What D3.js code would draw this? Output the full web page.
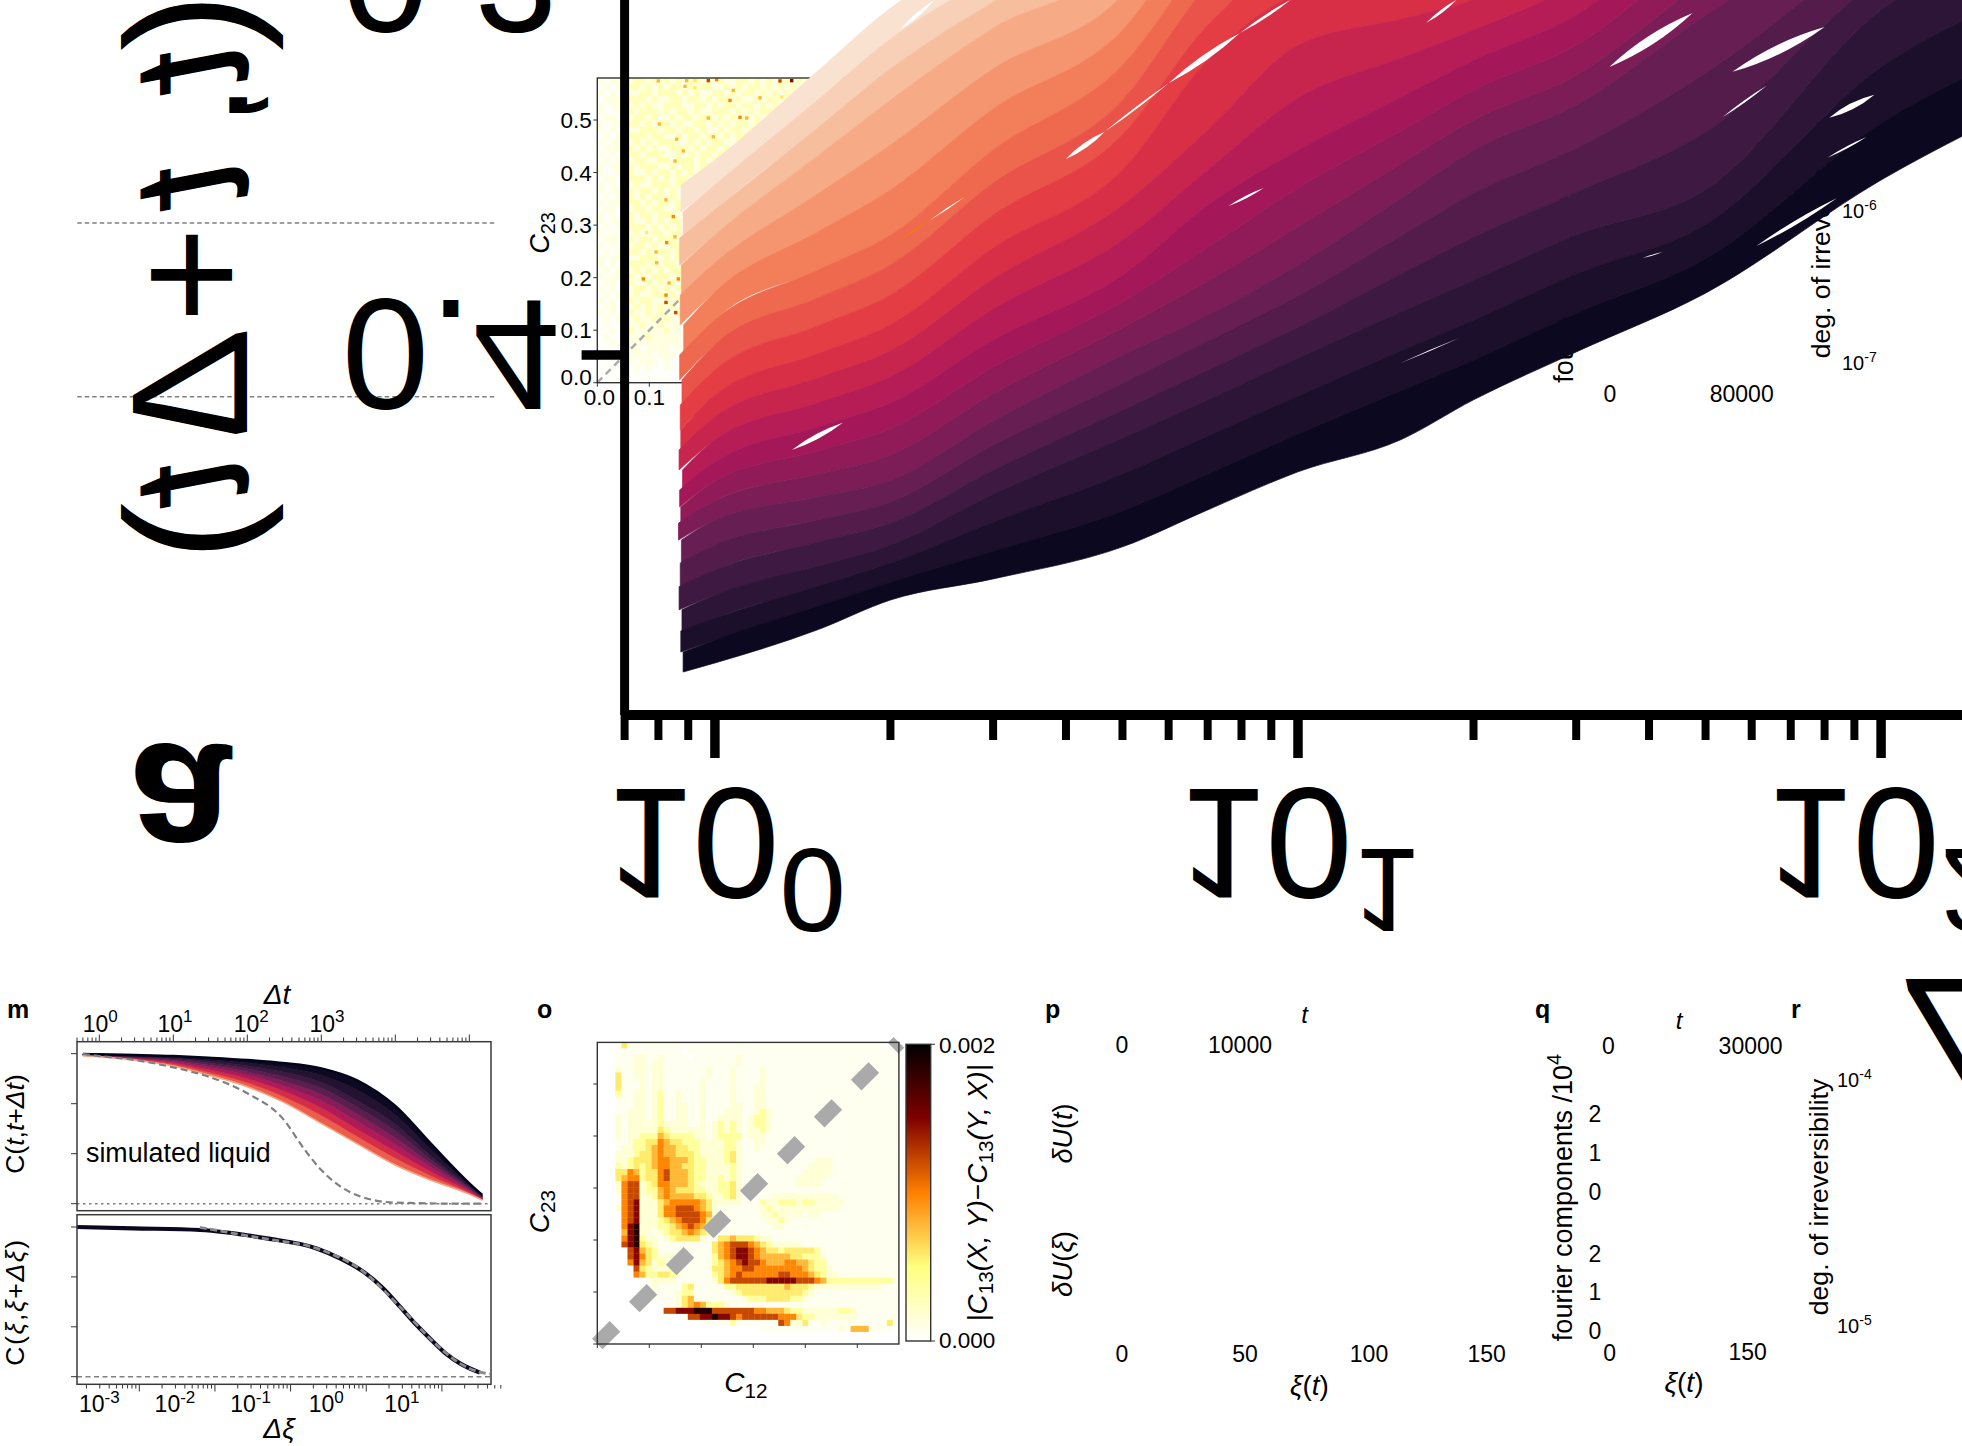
<!DOCTYPE html>
<html>
<head>
<meta charset="utf-8">
<script src="https://cdn.jsdelivr.net/npm/d3@7"></script>
<style>
html, body { margin: 0; background: #fff; }
svg { display: block; }
text { font-family: "Liberation Sans", Arial, sans-serif; fill: #000; }
</style>
</head>
<body>
<div id="chart"></div>
<script>
// big panel: C(t,t+dt) fan, one row per curve, dark (high C) first
const fanDt = [0.87, 1, 1.5, 2, 3, 5, 7, 10, 15, 20, 30, 50, 100, 200];
const fanCurves = [
  [.4841,.4817,.4729,.4650,.4594,.4509,.4411,.4310,.4225,.4119,.3992,.3836,.3536,.3297],
  [.4788,.4756,.4666,.4602,.4520,.4414,.4316,.4210,.4095,.4013,.3889,.3745,.3385,.3157],
  [.4732,.4698,.4613,.4552,.4443,.4316,.4215,.4109,.3989,.3907,.3785,.3653,.3236,.3013],
  [.4676,.4637,.4560,.4504,.4369,.4220,.4119,.4008,.3886,.3801,.3682,.3562,.3085,.2873],
  [.4615,.4570,.4496,.4446,.4305,.4146,.4040,.3926,.3785,.3687,.3568,.3408,.2997,.2759],
  [.4552,.4504,.4438,.4390,.4239,.4074,.3963,.3843,.3684,.3570,.3451,.3252,.2907,.2642],
  [.4491,.4438,.4377,.4332,.4175,.4000,.3894,.3761,.3584,.3456,.3337,.3098,.2820,.2528],
  [.4446,.4387,.4316,.4265,.4103,.3928,.3804,.3660,.3493,.3377,.3257,.3005,.2706,.2414],
  [.4403,.4334,.4255,.4196,.4032,.3859,.3714,.3557,.3406,.3297,.3178,.2912,.2589,.2297],
  [.4358,.4284,.4191,.4127,.3960,.3788,.3602,.3456,.3316,.3218,.3098,.2820,.2475,.2183],
  [.4305,.4225,.4127,.4058,.3878,.3695,.3509,.3318,.3212,.3138,.3013,.2732,.2369,.2077],
  [.4252,.4164,.4061,.3989,.3798,.3602,.3403,.3178,.3109,.3058,.2931,.2642,.2263,.1971],
  [.4199,.4106,.3997,.3920,.3716,.3509,.3218,.3045,.3005,.2979,.2846,.2554,.2157,.1865],
  [.4133,.4040,.3923,.3841,.3629,.3416,.3125,.2939,.2889,.2854,.2721,.2456,.2024,.1732],
  [.4066,.3973,.3849,.3761,.3544,.3324,.3019,.2833,.2775,.2732,.2599,.2361,.1891,.1599],
  [.4000,.3907,.3775,.3682,.3456,.3231,.2939,.2727,.2658,.2607,.2475,.2263,.1759,.1467],
  [.3920,.3833,.3674,.3562,.3347,.3138,.2833,.2634,.2557,.2501,.2369,.2157,.1653,.1361],
  [.3841,.3756,.3573,.3443,.3241,.3045,.2727,.2541,.2456,.2395,.2263,.2050,.1546,.1254],
  [.3761,.3682,.3472,.3324,.3133,.2952,.2607,.2448,.2355,.2289,.2157,.1944,.1440,.1149],
  [.3690,.3615,.3398,.3241,.3064,.2881,.2554,.2377,.2268,.2191,.2042,.1838,.1406,.1114],
  [.3621,.3549,.3324,.3162,.2995,.2812,.2488,.2308,.2183,.2096,.1926,.1732,.1369,.1077],
  [.3549,.3483,.3247,.3080,.2926,.2740,.2408,.2236,.2096,.1997,.1812,.1626,.1335,.1042]
];
const fanLevel = [0,.047,.093,.14,.19,.24,.29,.337,.383,.43,.477,.523,.57,.617,.663,.71,.76,.81,.86,.907,.953,1];
// first dt reached by each curve, the jagged left edge
const fanFirstDt = [.882,.874,.878,.868,.872,.876,.866,.874,.87,.88,.868,.874,.872,.878,.87,.884,.872,.876,.87,.882,.875,.87];

// thin gaps between curves [dt0, C0, dt1, C1]
const fanGaps = [
  [4.0,.348,4.66,.3408],[4.66,.3408,6.0,.3279],[6.0,.3279,7.95,.3146],[7.95,.3146,9.71,.3058],
  [16.6,.3119,18.7,.3058],[7.6,.3605,8.73,.3557],[1.355,.4252,1.657,.418],[2.34,.3642,2.68,.3581],
  [34.2,.3236,47.5,.3093],[55.6,.3249,80,.313],[81.5,.3371,97.4,.331],[53.5,.3369,63.6,.3286],
  [80.9,.3477,94.4,.3422],[61.1,.3711,83.9,.3584],[39,.3743,42.2,.3727],[2.075,.3138,2.38,.3058],
  [15,.4021,18.9,.3955]
];
const fanGapWidth = [5,2,6,3,3,2.5,5,1.5,9,9,6,2,2,4,1,4,1];
const orangeGap = [2.075,.3695,2.34,.3642];

const bigXMajor = [1, 10, 100];
const bigXLabelShift = [-110, -120, -116];
const bigYTicks = [0.3, 0.4];
const bigRefLines = [0.365, 0.4111];
// the mirrored y label, glyph by glyph, with where it sits along the axis
const bigYGlyphs = ["C", "(", "t", ",", "t", "+", "Δ", "t", ")"];
const bigYGlyphAt = [-65, 22, 67, 105, 183, 275, 390, 480, 532];

// panel m, top: dt on log axis
const mDt = [0.6,1,3,10,30,100,300,1000,3000,10000,30000,100000,150000];
const mCurves = [
  [.998,.996,.991,.984,.973,.958,.938,.902,.824,.651,.402,.136,.058],
  [.997,.995,.987,.978,.962,.940,.910,.858,.760,.592,.362,.126,.054],
  [.996,.993,.983,.971,.950,.920,.880,.810,.690,.530,.320,.115,.050],
  [.995,.992,.980,.964,.938,.900,.850,.772,.647,.486,.295,.108,.046],
  [.993,.990,.976,.957,.925,.880,.820,.730,.600,.440,.270,.100,.042],
  [.992,.988,.972,.949,.910,.858,.788,.687,.552,.396,.243,.092,.038],
  [.990,.986,.968,.940,.895,.835,.755,.640,.500,.350,.215,.083,.033],
  [.988,.983,.963,.929,.877,.808,.718,.590,.452,.305,.188,.073,.029],
  [.986,.980,.958,.918,.858,.780,.680,.536,.402,.258,.158,.064,.024]
];
const mLevel = [.03,.09,.16,.24,.34,.44,.54,.66];
const mLiquidDt = [0.6,1,3,10,30,100,300,600,1000,3000,10000,100000,150000];
const mLiquidC = [.998,.984,.958,.909,.847,.736,.569,.358,.224,.058,.007,0,0];
const mTopLabelShift = [1, 1.7, 4, 5.7];
// panel m, bottom: d-xi on log axis
const mXi = [.00015,.00083,.00634,.0482,.221,.449,.912,1.68,2.79,4.62,7.67,11.5,17.3,31.8];
const mXiC = [1,.991,.98,.924,.857,.791,.702,.59,.468,.345,.234,.151,.089,.027];
const mXiRefX = [.0063,.0175,.0482,.221,.912,2.79,7.67,17.3,31.8,43];
const mXiRefC = [.998,.958,.92,.857,.702,.468,.234,.089,.03,.018];
const mTicksC = [0, 1/3, 2/3, 1];

// heatmap rows: digit is an index in heatLevels, top row first
const heatLevels = [0,.00006,.00016,.00038,.00058,.00078,.00098,.00122,.00148,.00185];
const heatNLevels = [.00002,.00012,.00028];
const heatO = [
"0000411111 1111111111 1111111111 1111111111 1111111000",
"0001111111 1111011111 1111111111 1111111111 1111111110",
"0001112211 2111101111 1112111111 1111111111 1111111111",
"0001112212 2111111111 1112111111 1111111111 1111111111",
"0002112212 2111111121 1121111211 1111111111 1111111111",
"0004112212 2111111121 1121111211 1111111111 1111111111",
"0004111212 2111111211 1121111211 1111111111 1111111111",
"0004111212 2111111211 1121112211 1111111111 1111111111",
"0003112212 3112111211 1121112211 1111111111 1111111111",
"0001112212 3112111211 1121112211 1111111111 1111111111",
"0001112212 3112211211 1122112211 1111111111 1111111111",
"0001122212 3112211211 1222112321 1111111111 1111111111",
"0002122212 3112211211 2222123321 1111111111 1111111111",
"0002122222 3222211212 3232123321 1111111111 1111111111",
"0002122222 4322222212 3232122321 1111111111 1111111111",
"0002122333 5433332212 3333122211 1111111111 1111111111",
"0001123344 6544333222 2332112211 1111111111 1111111111",
"0001223345 6554433222 2332112111 1111111111 1111111111",
"0002223445 6554443222 2342111111 1111111111 1111111111",
"0002234445 6655543322 2342111111 1111112221 1111111111",
"0003234345 6655443322 2232111111 1111122221 1111111111",
"0004465344 6755543322 2232111111 1111222221 1111111111",
"0004566344 6755543322 3232111111 1112222211 1111111111",
"0002677234 6655543222 3342111111 1112222111 1111111111",
"0002677233 5654443322 3342111111 1111111111 1111111111",
"0001677223 5655554432 2342111112 2222222222 1111111111",
"0001678222 4566666542 2222111322 3332332222 2111111111",
"0002678222 4667776542 1111111232 2222222222 1111111111",
"0000678222 4667777652 1111111223 2222122111 1111111111",
"0000678222 3456777642 1111111122 3211111111 1111111111",
"0000689222 3345676532 1111111112 2111111111 1111111111",
"0000589221 2344565431 1111111111 1111111111 1111111111",
"0000689322 1234444211 4454443221 1111111111 1111111111",
"0000789432 1111111114 5677765432 2222111111 1111111111",
"0000078543 1111111114 5678876544 3444443111 1111111111",
"0000078643 2221111113 5678876555 5544333211 1111111111",
"0000068542 3221111113 4567877655 5665543311 1111111111",
"0000007432 2232111114 4566776666 6666543321 1111111111",
"0000006533 4432111113 4567666666 7766654322 1111111111",
"0000000012 2221111112 4677777788 8887776533 3333333331",
"0000000112 1111341111 1334444444 4544432222 2222222111",
"0000000011 1112331111 1123444444 4444321111 1111111111",
"0000000001 1112451111 1111233344 4433211111 1111111111",
"0000000000 0112456533 3211111111 1111111111 1111111111",
"0000000000 0778889997 7777776655 5433222222 3321111111",
"0000000000 0000177889 8876777777 6664332222 2221111111",
"0000000000 0000000111 1131111111 7622411211 1111111141",
"0000000000 0000000000 0000000111 1111111111 2155511110",
"0000000000 0000000000 0000000000 0000000000 0000000000",
"0000000000 0000000000 0000000000 0000000000 0000000000"
];
const heatN = [
"1011 2122121212 1221212112 2121212212 1221",
"0101 1221212122 1212211212 1221212121 221",
"1010 2112212221 2121122121 2212121212 2",
"0111 1222121122 1221212212 1121221221",
"1011 2121211222 1122121221 2212121",
"1001 1212221212 2121122212 1212212",
"0110 2122121121 2212212121 212112",
"1011 1221212212 1122121212 2121",
"1010 2112221221 2212112122 121",
"0101 1222122112 1221221212 21",
"1011 2121212221 1212122112",
"0111 2212121122 2121221212",
"1010 1221222112 1212212",
"0101 2122112212 2212121",
"1011 1212221121 22122",
"1001 2211212212 1212",
"0110 1222121212 21",
"1010 2121122212 2",
"1011 1212212121",
"0101 2212122121",
"1011 1221212212",
"0110 2122122112",
"1010 1212212221",
"1011 2211212122",
"0101 1222121212",
"1010 2121122122",
"0111 1212212221",
"1010 2122121122",
"0101 1221212212",
"1011 2112221212",
"1010 1222121221",
"0101 2121212122",
"1011 1212122212",
"0110 2211212121",
"1010 1122121212",
"0101 2121122121",
"1010 1212211212",
"0110 1121212121",
"1010 1211212112",
"0101 1121121211",
"0100 1112112111",
"0010 1211111211",
"0100 1111211111",
"0010 1111111111",
"0000 1110111101",
"0000 0111101110",
"0000 0101110100",
"0000 0010100100",
"0000 0000000000",
"0000 0000000000"
];
// hottest single cells of the panel behind the fan [C12, C23, level]
const heatNSpots = [
  [.1173,.5744,5],[.1719,.575,5],[.1687,.5642,5],[.1879,.575,4],[.1879,.5615,4],[.2135,.575,7],
  [.2296,.5769,6],[.2616,.5565,5],[.3129,.5423,5],[.3513,.5744,7],[.3738,.575,8],[.3546,.5437,4],
  [.2552,.5373,6],[.2744,.5052,6],[.2873,.5038,5],[.2135,.5038,5],[.1192,.4923,5],[.1527,.4635,5],
  [.2231,.4681,5],[.1654,.4412,5],[.1494,.4219,5],[.1321,.3481,5],[.1462,.3162,6],[.095,.286,4],
  [.1494,.2777,5],[.1335,.2667,6],[.1129,.2488,5],[.0885,.1975,6],[.1558,.1975,6],[.1379,.1898,5],
  [.1142,.2283,5],[.1321,.1667,6],[.1321,.1527,7],[.1508,.1335,7]
];
const heatTicks = [0, 0.1, 0.2, 0.3, 0.4, 0.5];
const heatDomain = [0, 0.58];
const barTicks = ["0.002", "0.000"];

const width = 1962, height = 1446;
const svg = d3.select("#chart").append("svg").attr("width", width).attr("height", height);

const rocket = d3.scaleLinear()
  .domain([0, 1/7, 2/7, 3/7, 4/7, 5/7, 6/7, 1])
  .range(["#03051a", "#35193e", "#701f57", "#ad1759", "#e13342", "#f37651", "#f6b48f", "#faebdd"]);
const heatColor = d3.scaleLinear().domain([0, .0005, .001, .0015, .002])
  .range(["#ffffff", "#ffff80", "#ff8000", "#800000", "#000000"]);

// text with italic, sup and sub pieces
function label(parent, x, y, parts, fs, opts) {
  opts = opts || {};
  const t = parent.append("text")
    .attr("font-size", fs)
    .attr("text-anchor", opts.anchor || "middle")
    .attr("transform", opts.transform || ("translate(" + x + "," + y + ")"));
  if (opts.bold) t.attr("font-weight", "bold");
  if (opts.spacing) t.attr("letter-spacing", opts.spacing);
  let shift = 0;
  (typeof parts === "string" ? [{s: parts}] : parts).forEach(function(p) {
    const target = p.sup ? -(opts.raise || 0.4) * fs : (p.sub ? 0.22 * fs : 0);
    const sp = t.append("tspan").text(p.s).attr("dy", target - shift)
      .attr("font-size", (p.sup || p.sub) ? fs * (opts.ratio || 0.74) : fs);
    if (p.i) sp.attr("font-style", "italic");
    shift = target;
  });
  return t;
}
const rot = function(x, y) { return "translate(" + x + "," + y + ") rotate(-90)"; };
const pow10 = function(e) { return [{s: "10"}, {s: String(e), sup: true}]; };

function logTicks(lo, hi) {
  const out = [];
  for (let e = -6; e < 7; e++) for (let m = 1; m < 10; m++) {
    const v = +(m + "e" + e);
    if (v >= lo && v <= hi) out.push(v);
  }
  return out;
}
const isMajor = function(d) { return Math.abs(Math.log10(d) - Math.round(Math.log10(d))) < 1e-9; };

// ---- bottom left, panel m
const m = svg.append("g");
const mTopX = d3.scaleLog().domain([1, 1e5]).range([99.3, 469.3]);
const mTopY = d3.scaleLinear().domain([0, 1]).range([1203.7, 1053.7]);
const mBotX = d3.scaleLog().domain([1e-3, 10]).range([139.3, 441.9]);
const mBotY = d3.scaleLinear().domain([0, 1]).range([1376.7, 1227]);

const mBand = d3.area().curve(d3.curveMonotoneX).x(function(d) { return mTopX(d.x); })
  .y0(function(d) { return mTopY(d.a); }).y1(function(d) { return mTopY(d.b); });
const mLine = d3.line().curve(d3.curveMonotoneX).x(function(d) { return mTopX(d[0]); }).y(function(d) { return mTopY(d[1]); });
for (let k = mCurves.length - 2; k >= 0; k--) {
  const rows = mDt.map(function(x, i) { return {x: x, a: mCurves[k][i], b: mCurves[k + 1][i]}; });
  const c = rocket(mLevel[k]);
  m.append("path").datum(rows).attr("d", mBand).attr("fill", c).attr("stroke", c).attr("stroke-width", 0.6);
}
m.append("path").datum(mDt.map(function(x, i) { return [x, mCurves[0][i]]; }))
  .attr("fill", "none").attr("stroke", "#03051a").attr("stroke-width", 2.5).attr("d", mLine);
m.append("path").datum(mDt.map(function(x, i) { return [x, mCurves[8][i]]; }))
  .attr("fill", "none").attr("stroke", "#f6a67f").attr("stroke-width", 1.5).attr("d", mLine);
m.append("line").attr("x1", 77).attr("x2", 491).attr("y1", mTopY(0)).attr("y2", mTopY(0))
  .attr("stroke", "#808080").attr("stroke-width", 1.5).attr("stroke-dasharray", "2.5,3.5");
m.append("path").datum(mLiquidDt.map(function(x, i) { return [x, mLiquidC[i]]; }))
  .attr("fill", "none").attr("stroke", "#808080").attr("stroke-width", 2.2).attr("stroke-dasharray", "7,4").attr("d", mLine);

const botLine = d3.line().curve(d3.curveMonotoneX).x(function(d) { return mBotX(d[0]); }).y(function(d) { return mBotY(d[1]); });
m.append("line").attr("x1", 77).attr("x2", 491).attr("y1", mBotY(0)).attr("y2", mBotY(0))
  .attr("stroke", "#808080").attr("stroke-width", 1.5).attr("stroke-dasharray", "5,3.5");
m.append("path").datum(mXi.map(function(x, i) { return [x, mXiC[i]]; })).attr("d", botLine)
  .attr("fill", "none").attr("stroke", "#0a0820").attr("stroke-width", 4.2);
m.append("path").datum(mXiRefX.map(function(x, i) { return [x, mXiRefC[i]]; })).attr("d", botLine)
  .attr("fill", "none").attr("stroke", "#8a8a8a").attr("stroke-width", 2.8).attr("stroke-dasharray", "7,3.5");

[[1041.7, 1210.7], [1214.7, 1384.3]].forEach(function(b) {
  m.append("rect").attr("x", 77).attr("y", b[0]).attr("width", 414).attr("height", b[1] - b[0])
    .attr("fill", "none").attr("stroke", "#3a3a3a").attr("stroke-width", 1.5);
});
const styleSmall = function(g) {
  g.select(".domain").remove();
  g.selectAll(".tick line").attr("stroke", "#333").attr("stroke-width", 1);
  g.selectAll(".tick text").remove();
};
const topAxis = m.append("g").attr("transform", "translate(0,1041)")
  .call(d3.axisTop(mTopX).tickValues(logTicks(0.5, 1.9e5)).tickSize(3.5).offset(0));
styleSmall(topAxis);
topAxis.selectAll(".tick line").filter(isMajor).attr("y2", -6.5);
const botAxis = m.append("g").attr("transform", "translate(0,1385)")
  .call(d3.axisBottom(mBotX).tickValues(logTicks(1.6e-4, 60)).tickSize(3.5).offset(0));
styleSmall(botAxis);
botAxis.selectAll(".tick line").filter(isMajor).attr("y2", 6.5);
const leftTop = m.append("g").attr("transform", "translate(77,0)")
  .call(d3.axisLeft(mTopY).tickValues(mTicksC).tickSize(6).offset(0));
styleSmall(leftTop);
const leftBot = m.append("g").attr("transform", "translate(77,0)")
  .call(d3.axisLeft(mBotY).tickValues(mTicksC).tickSize(6).offset(0));
styleSmall(leftBot);

[1, 10, 100, 1000].forEach(function(v, i) { label(m, mTopX(v) + mTopLabelShift[i], 1031.6, pow10(i), 23); });
[-3, -2, -1, 0, 1].forEach(function(e) { label(m, mBotX(Math.pow(10, e)) - 40, 1411.7, pow10(e), 23); });
label(m, 22, 1018, "m", 25, {bold: true, anchor: "start", transform: "translate(7,1018)"});
label(m, 277, 1004, [{s: "Δt", i: true}], 28);
label(m, 279, 1438, [{s: "Δξ", i: true}], 28);
label(m, 86, 1161.7, "simulated liquid", 26.8, {anchor: "start"});
label(m, 0, 0, [{s: "C"}, {s: "("}, {s: "t", i: true}, {s: ","}, {s: "t", i: true}, {s: "+"}, {s: "Δt", i: true}, {s: ")"}], 26.5, {transform: rot(24, 1124)});
label(m, 0, 0, [{s: "C"}, {s: "("}, {s: "ξ", i: true}, {s: ","}, {s: "ξ", i: true}, {s: "+"}, {s: "Δξ", i: true}, {s: ")"}], 26.5, {transform: rot(24, 1302), spacing: 1.6});

// ---- panel o
const o = svg.append("g");
const oX = d3.scaleLinear().domain(heatDomain).range([597.3, 898.9]);
const oY = d3.scaleLinear().domain(heatDomain).range([1344, 1042.4]);
const cell = heatDomain[1] / 50;
function drawHeat(g, rows, x, y, levels) {
  rows.forEach(function(r, i) {
    const digits = r.replace(/ /g, "").split("");
    g.selectAll(null).data(digits).enter().append("rect")
      .attr("x", function(d, c) { return x(c * cell); })
      .attr("y", y(heatDomain[1] - i * cell))
      .attr("width", x(cell) - x(0) + 0.3)
      .attr("height", y(0) - y(cell) + 0.3)
      .attr("fill", function(d) { return heatColor(levels[+d]); });
  });
}
drawHeat(o, heatO, oX, oY, heatLevels);
o.append("line").attr("x1", oX(0)).attr("y1", oY(0)).attr("x2", oX(heatDomain[1])).attr("y2", oY(heatDomain[1]))
  .attr("stroke", "#aaaaaa").attr("stroke-width", 15).attr("stroke-dasharray", "25,27.3");
o.append("rect").attr("x", 597.3).attr("y", 1042.4).attr("width", 301.6).attr("height", 301.6)
  .attr("fill", "none").attr("stroke", "#333").attr("stroke-width", 1.4);
const oBot = o.append("g").attr("transform", "translate(0,1344)")
  .call(d3.axisBottom(oX).tickValues(heatTicks).tickSize(4).offset(0));
styleSmall(oBot);
const oLeft = o.append("g").attr("transform", "translate(597.3,0)")
  .call(d3.axisLeft(oY).tickValues(heatTicks).tickSize(4).offset(0));
styleSmall(oLeft);

const barY = d3.scaleLinear().domain([0, .002]).range([1341, 1044.3]);
const grad = svg.append("defs").append("linearGradient").attr("id", "bar")
  .attr("x1", "0%").attr("y1", "100%").attr("x2", "0%").attr("y2", "0%");
grad.selectAll("stop").data(heatColor.domain()).enter().append("stop")
  .attr("offset", function(d) { return (d / .002 * 100) + "%"; })
  .attr("stop-color", function(d) { return heatColor(d); });
o.append("rect").attr("x", 906).attr("y", barY(.002)).attr("width", 24.7).attr("height", barY(0) - barY(.002))
  .attr("fill", "url(#bar)").attr("stroke", "#333").attr("stroke-width", 1.4);
barTicks.forEach(function(v) {
  o.append("line").attr("x1", 930.7).attr("x2", 935).attr("y1", barY(+v)).attr("y2", barY(+v)).attr("stroke", "#333");
});
label(o, 939, 1053, barTicks[0], 22.5, {anchor: "start"});
label(o, 939, 1347.7, barTicks[1], 22.5, {anchor: "start"});
label(o, 0, 0, [{s: "|C", i: true}, {s: "13", sub: true}, {s: "(X, Y)", i: true}, {s: "−"}, {s: "C", i: true}, {s: "13", sub: true}, {s: "(Y, X)|", i: true}], 28, {transform: rot(986.7, 1193)});
label(o, 0, 0, [{s: "C", i: true}, {s: "12", sub: true}], 28, {transform: "translate(746,1391.7)"});
label(o, 0, 0, [{s: "C", i: true}, {s: "23", sub: true}], 28, {transform: rot(549.3, 1211.7)});
label(o, 537, 1018, "o", 25, {bold: true, anchor: "start"});

// ---- panels p, q, r, only their labels are left
const t = svg.append("g");
label(t, 1045, 1018.3, "p", 25, {bold: true, anchor: "start"});
label(t, 1304.7, 1023, [{s: "t", i: true}], 24);
label(t, 1122, 1052.7, "0", 23);
label(t, 1240, 1052.7, "10000", 23);
label(t, 0, 0, [{s: "δU", i: true}, {s: "("}, {s: "t", i: true}, {s: ")"}], 27, {transform: rot(1071.6, 1133.5)});
label(t, 0, 0, [{s: "δU", i: true}, {s: "("}, {s: "ξ", i: true}, {s: ")"}], 27.5, {transform: rot(1071.6, 1264)});
[["0", 1122], ["50", 1245], ["100", 1369], ["150", 1486.6]].forEach(function(d) { label(t, d[1], 1361.7, d[0], 23); });
label(t, 1309.4, 1395, [{s: "ξ", i: true}, {s: "("}, {s: "t", i: true}, {s: ")"}], 28);

label(t, 1535, 1018, "q", 25, {bold: true, anchor: "start"});
label(t, 1679, 1029, [{s: "t", i: true}], 24);
label(t, 1608.5, 1054.3, "0", 23);
label(t, 1750.6, 1054.3, "30000", 23);
[["2", 1122.3], ["1", 1160.7], ["0", 1200], ["2", 1261.7], ["1", 1300], ["0", 1339]].forEach(function(d) {
  label(t, 1594.8, d[1], d[0], 23);
});
label(t, 0, 0, [{s: "fourier components /10"}, {s: "4", sup: true}], 27, {transform: rot(1572, 1197.5)});
label(t, 1609.7, 1360.7, "0", 23);
label(t, 1747.6, 1360, "150", 23);
label(t, 1684, 1391.7, [{s: "ξ", i: true}, {s: "("}, {s: "t", i: true}, {s: ")"}], 28);

label(t, 1791, 1018, "r", 25, {bold: true, anchor: "start"});
label(t, 1837, 1086.7, pow10(-4), 20, {anchor: "start", ratio: 0.7});
label(t, 1837, 1333, pow10(-5), 20, {anchor: "start", ratio: 0.7});
label(t, 0, 0, "deg. of irreversibility", 26.6, {transform: rot(1828, 1197)});

// same panels again, higher up, mostly under the fan
label(t, 0, 0, "fourier components /10", 27, {anchor: "start", transform: rot(1572.7, 382.7)});
label(t, 0, 0, "deg. of irreversibility", 26.6, {anchor: "start", transform: rot(1830, 358.3)});
label(t, 1842, 218.3, pow10(-6), 20, {anchor: "start", ratio: 0.7});
label(t, 1842, 370, pow10(-7), 20, {anchor: "start", ratio: 0.7});
label(t, 1610, 402.3, "0", 23);
label(t, 1741.7, 402.3, "80000", 23);

// ---- panel behind the fan
const n = svg.append("g");
const nX = d3.scaleLinear().domain(heatDomain).range([597.3, 898.9]);
const nY = d3.scaleLinear().domain(heatDomain).range([382.7, 78]);
drawHeat(n, heatN, nX, nY, heatNLevels);
n.selectAll(null).data(heatNSpots).enter().append("rect")
  .attr("x", function(d) { return nX(d[0]) - 1.7; })
  .attr("y", function(d) { return nY(d[1]) - 1.7; })
  .attr("width", 3.4).attr("height", 3.4)
  .attr("fill", function(d) { return heatColor(heatLevels[d[2]]); });
n.append("line").attr("x1", nX(0)).attr("y1", nY(0)).attr("x2", nX(heatDomain[1])).attr("y2", nY(heatDomain[1]))
  .attr("stroke", "#aaaaaa").attr("stroke-width", 2.5).attr("stroke-dasharray", "7,5");
n.append("rect").attr("x", 597.3).attr("y", 78).attr("width", 301.6).attr("height", 304.7)
  .attr("fill", "none").attr("stroke", "#333").attr("stroke-width", 1.4);
const nBot = n.append("g").attr("transform", "translate(0,382.7)")
  .call(d3.axisBottom(nX).tickValues(heatTicks.slice(0, 2)).tickSize(4).offset(0));
nBot.select(".domain").remove();
nBot.selectAll(".tick text").attr("font-size", 22.5).attr("dy", 0).attr("y", 22.5).text(d3.format(".1f"))
  .attr("dx", function(d) { return d === 0 ? 2 : 0; });
const nLeft = n.append("g").attr("transform", "translate(597.3,0)")
  .call(d3.axisLeft(nY).tickValues(heatTicks).tickSize(4).offset(0));
nLeft.select(".domain").remove();
nLeft.selectAll(".tick text").attr("font-size", 22.5).attr("x", -5.5).text(d3.format(".1f"))
  .attr("dy", function(d) { return d === 0 ? 2.5 : 8; });
[nBot, nLeft].forEach(function(g) {
  g.selectAll(".tick line").attr("stroke", "#333");
  g.selectAll(".tick text").attr("font-family", "Liberation Sans").attr("fill", "#000");
});
label(n, 0, 0, [{s: "C", i: true}, {s: "23", sub: true}], 27, {transform: rot(549, 233)});

// gray lines that belong to the panel m copy of the big axes
const bigX = d3.scaleLog().domain([0.7, 200]).range([624.6, 2056.6]);
const bigY = d3.scaleLinear().domain([0.3, 0.4955]).range([-22, 715]);
bigRefLines.forEach(function(c) {
  svg.append("line").attr("x1", bigX(0.0806)).attr("x2", bigX(0.42)).attr("y1", bigY(c)).attr("y2", bigY(c))
    .attr("stroke", "#808080").attr("stroke-width", 1.5).attr("stroke-dasharray", "4.5,3");
});

// ---- the big axes, y runs downward, text comes out mirrored
const big = svg.append("g");
const bigBottom = big.append("g").attr("transform", "translate(0,715)")
  .call(d3.axisBottom(bigX).tickValues(logTicks(0.7, 200)).tickSize(25).tickSizeOuter(0).offset(0));
bigBottom.select(".domain").attr("stroke", "#000").attr("stroke-width", 10);
bigBottom.selectAll(".tick text").remove();
bigBottom.selectAll(".tick line").attr("stroke", "#000").attr("stroke-width", 8);
bigBottom.selectAll(".tick line").filter(isMajor).attr("y2", 43).attr("stroke-width", 9.5);
const bigLeft = big.append("g").attr("transform", "translate(624.6,0)")
  .call(d3.axisLeft(bigY).tickValues(bigYTicks).tickSize(43).tickSizeOuter(0).offset(0));
bigLeft.select(".domain").attr("stroke", "#000").attr("stroke-width", 9);
bigLeft.selectAll(".tick text").remove();
bigLeft.selectAll(".tick line").attr("stroke", "#000").attr("stroke-width", 9.5);

const flip = function(x, y, sx) { return "matrix(" + (sx || 1) + ",0,0,-1," + x + "," + y + ")"; };
bigXMajor.forEach(function(v, i) {
  label(big, 0, 0, pow10(i), 157, {anchor: "start", raise: 0.38, ratio: 0.76, transform: flip(bigX(v) + bigXLabelShift[i], 789)});
});
bigYTicks.forEach(function(v) {
  label(big, 0, 0, d3.format(".1f")(v), 157, {anchor: "end", transform: flip(560, bigY(v) - 55)});
});
bigYGlyphs.forEach(function(g, i) {
  const upright = g === "C" || g === "(" || g === ")" || g === "," || g === "+";
  label(big, 0, 0, [{s: g, i: !upright}], (g === "(" || g === ")") ? 175 : 165,
    {transform: "matrix(0,1,1,0,247," + bigYGlyphAt[i] + ")"});
});
label(big, 0, 0, "a", 182, {bold: true, anchor: "start", transform: flip(130, 745)});
label(big, 0, 0, [{s: "Δt", i: true}], 165, {anchor: "start", transform: flip(1909, 979)});

// ---- the fan on top of everything else
const fan = svg.append("g");
const band = d3.area().curve(d3.curveMonotoneX).x(function(d) { return bigX(d.x); })
  .y0(function(d) { return bigY(d.a); }).y1(function(d) { return bigY(d.b); });
for (let k = fanCurves.length - 2; k >= 0; k--) {
  const rows = fanDt.map(function(x, i) {
    return {x: i === 0 ? fanFirstDt[k] : x, a: fanCurves[k][i], b: fanCurves[k + 1][i]};
  });
  const c = rocket((fanLevel[k] + fanLevel[k + 1]) / 2);
  fan.append("path").datum(rows).attr("d", band).attr("fill", c).attr("stroke", c).attr("stroke-width", 0.7);
}
function lens(g, d, w, color) {
  const x0 = bigX(d[0]), y0 = bigY(d[1]), x1 = bigX(d[2]), y1 = bigY(d[3]);
  const mx = (x0 + x1) / 2, my = (y0 + y1) / 2, len = Math.hypot(x1 - x0, y1 - y0);
  const nx = -(y1 - y0) / len * w, ny = (x1 - x0) / len * w;
  g.append("path").attr("fill", color).attr("d",
    "M" + x0 + "," + y0 + "Q" + (mx + nx) + "," + (my + ny) + " " + x1 + "," + y1 +
    "Q" + (mx - nx) + "," + (my - ny) + " " + x0 + "," + y0 + "Z");
}
fanGaps.forEach(function(d, i) { lens(fan, d, fanGapWidth[i], "#fff"); });
lens(fan, orangeGap, 1.5, "#f08000");
</script>
</body>
</html>
